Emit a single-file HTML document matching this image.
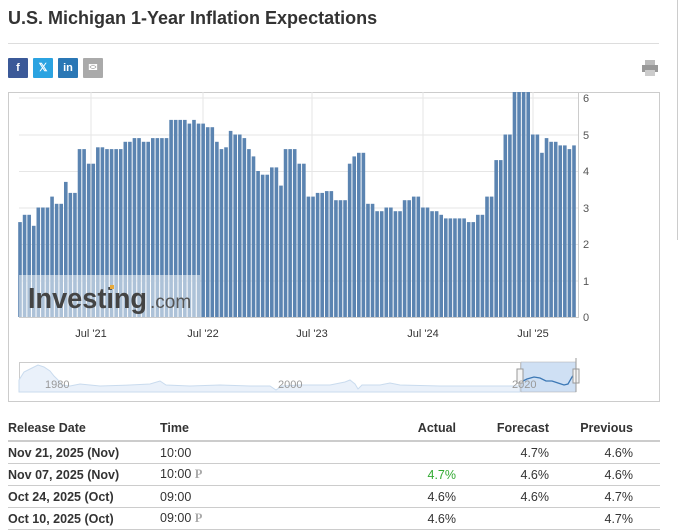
<!DOCTYPE html>
<html><head><meta charset="utf-8">
<style>
body{margin:0;width:679px;height:522px;overflow:hidden;background:#fff;font-family:"Liberation Sans",Arial,sans-serif;color:#333;position:relative}
.t{position:absolute;left:8px;top:8px;font-size:18px;font-weight:bold;color:#333}
.hr{position:absolute;left:8px;width:651px;top:43px;height:1px;background:#ddd}
.ic{position:absolute;top:58px;width:20px;height:20px;color:#fff;font-size:11px;font-weight:bold;text-align:center;line-height:20px;border-radius:1px}
table{position:absolute;left:8px;top:416px;width:652px;border-collapse:collapse;font-size:12.5px}
th{font-weight:bold;text-align:left;height:24px;border-bottom:2px solid #ccc;padding:0}
td{height:21px;border-bottom:1px solid #ccc;padding:0}
.r{text-align:right}
.b{font-weight:bold}
</style></head><body>
<div class="t">U.S. Michigan 1-Year Inflation Expectations</div>
<div class="hr"></div>
<div class="ic" style="left:8px;background:#3b5998">f</div>
<div class="ic" style="left:33px;background:#2ba3e1">𝕏</div>
<div class="ic" style="left:58px;background:#2a77b5">in</div>
<div class="ic" style="left:83px;background:#aaa">✉</div>
<svg style="position:absolute;left:642px;top:60px" width="16" height="16"><rect x="3" y="0" width="10" height="5" fill="#bbb"/><rect x="0" y="5" width="16" height="7" fill="#999"/><rect x="3" y="10" width="10" height="6" fill="#ccc"/></svg>
<div style="position:absolute;left:677px;top:0;width:1px;height:240px;background:#ccc"></div>
<svg id="c" style="position:absolute;left:0;top:0" width="679" height="522">
<rect x="8.5" y="92.5" width="651" height="309" fill="none" stroke="#ccc"/>
<g stroke="#e6e6e6" stroke-width="1">
<line x1="19" x2="578" y1="98" y2="98"/><line x1="19" x2="578" y1="135" y2="135"/><line x1="19" x2="578" y1="171.5" y2="171.5"/><line x1="19" x2="578" y1="208" y2="208"/><line x1="19" x2="578" y1="244.5" y2="244.5"/><line x1="19" x2="578" y1="281" y2="281"/>
<line x1="91" x2="91" y1="92" y2="317"/><line x1="203" x2="203" y1="92" y2="317"/><line x1="312" x2="312" y1="92" y2="317"/><line x1="423" x2="423" y1="92" y2="317"/><line x1="533" x2="533" y1="92" y2="317"/>
</g>
<g id="bars" fill="#5b84b1"></g>
<rect x="19" y="275" width="181" height="42" fill="#fff" opacity="0.5"/>
<text x="28" y="308" font-size="29" font-weight="bold" fill="#444" textLength="119" lengthAdjust="spacingAndGlyphs">Investing</text><text x="150" y="308" font-size="19" fill="#555">.com</text>
<rect x="110" y="285" width="4" height="4" fill="#e8a93a"/>
<line x1="19" x2="578" y1="317.5" y2="317.5" stroke="#ccc"/>
<line x1="578.5" x2="578.5" y1="92" y2="318" stroke="#ccc"/>
<g font-size="11" fill="#555">
<text x="583" y="102">6</text><text x="583" y="139">5</text><text x="583" y="175">4</text><text x="583" y="212">3</text><text x="583" y="248">2</text><text x="583" y="285">1</text><text x="583" y="321">0</text>
</g>
<g font-size="11" fill="#333" text-anchor="middle">
<text x="91" y="337">Jul '21</text><text x="203" y="337">Jul '22</text><text x="312" y="337">Jul '23</text><text x="423" y="337">Jul '24</text><text x="533" y="337">Jul '25</text>
</g>
<rect x="19.5" y="362.5" width="501" height="29" fill="#fff" stroke="#ccc"/>
<path d="M19 380 L24 372 L32 368 L38 365 L44 367 L50 371 L54 376 L58 380 L62 385 L70 386 L80 384 L100 386 L130 385 L150 384 L160 381 L166 385 L190 386 L220 385 L250 386 L270 386 L276 390 L282 386 L300 385 L330 385 L345 382 L350 380 L355 384 L358 389 L362 385 L380 385 L390 383 L400 385 L440 386 L480 386 L500 386 L520 386 L520 392 L19 392 Z" fill="#eaf1fa" stroke="#c9dbee" stroke-width="1"/>
<rect x="521" y="362" width="55" height="30" fill="#cfe0f4" stroke="#aaa" stroke-width="0.5"/>
<path d="M521 382 L527 379 L534 377 L540 378 L546 381 L552 381 L558 383 L564 385 L568 384 L572 377 L576 372" fill="none" stroke="#3c78b5" stroke-width="1.3"/>
<rect x="517" y="369" width="6" height="14" fill="#f5f5f5" stroke="#999"/><rect x="573" y="369" width="6" height="14" fill="#f5f5f5" stroke="#999"/>
<line x1="576" y1="358" x2="576" y2="392" stroke="#999"/>
<g font-size="11" fill="#999"><text x="45" y="388">1980</text><text x="278" y="388">2000</text><text x="512" y="388">2020</text></g>
</svg>
<table>
<tr><th style="width:152px">Release Date</th><th>Time</th><th class="r" style="width:100px">Actual</th><th class="r" style="width:93px">Forecast</th><th class="r" style="width:84px">Previous</th><th style="width:27px"></th></tr>
<tr><td class="b">Nov 21, 2025 (Nov)</td><td>10:00</td><td class="r"></td><td class="r">4.7%</td><td class="r">4.6%</td><td></td></tr>
<tr><td class="b">Nov 07, 2025 (Nov)</td><td>10:00 <b style="color:#aaa;font-family:'Liberation Serif',serif">P</b></td><td class="r" style="color:#3a3">4.7%</td><td class="r">4.6%</td><td class="r">4.6%</td><td></td></tr>
<tr><td class="b">Oct 24, 2025 (Oct)</td><td>09:00</td><td class="r">4.6%</td><td class="r">4.6%</td><td class="r">4.7%</td><td></td></tr>
<tr><td class="b">Oct 10, 2025 (Oct)</td><td>09:00 <b style="color:#aaa;font-family:'Liberation Serif',serif">P</b></td><td class="r">4.6%</td><td class="r"></td><td class="r">4.7%</td><td></td></tr>
</table>
<script>
(function(){
var v=[2.6,2.8,2.8,2.5,3.0,3.0,3.0,3.3,3.1,3.1,3.7,3.4,3.4,4.6,4.6,4.2,4.2,4.65,4.65,4.6,4.6,4.6,4.6,4.8,4.8,4.9,4.9,4.8,4.8,4.9,4.9,4.9,4.9,5.4,5.4,5.4,5.4,5.3,5.4,5.3,5.3,5.2,5.2,4.8,4.6,4.65,5.1,5.0,5.0,4.9,4.6,4.4,4.0,3.9,3.9,4.1,4.1,3.6,4.6,4.6,4.6,4.2,4.2,3.3,3.3,3.4,3.4,3.45,3.45,3.2,3.2,
3.2,4.2,4.4,4.5,4.5,3.1,3.1,2.9,2.9,3.0,3.0,2.9,2.9,3.2,3.2,3.3,3.3,3.0,3.0,2.9,2.9,2.8,2.7,2.7,2.7,2.7,2.7,2.6,2.6,2.8,2.8,3.3,3.3,4.3,4.3,5.0,5.0,6.5,6.6,6.6,6.6,5.0,5.0,4.5,4.9,4.8,4.8,4.7,4.7,4.6,4.7];
var g=document.getElementById('bars'),n=v.length,s=(574-20)/(n-1),NS='http://www.w3.org/2000/svg';
for(var i=0;i<n;i++){var t=Math.max(92,317-v[i]*36.5);var r=document.createElementNS(NS,'rect');
r.setAttribute('x',(20+i*s-1.8).toFixed(2));r.setAttribute('y',t.toFixed(1));r.setAttribute('width','3.6');r.setAttribute('height',(317-t).toFixed(1));g.appendChild(r);}
})();
</script>
</body></html>
